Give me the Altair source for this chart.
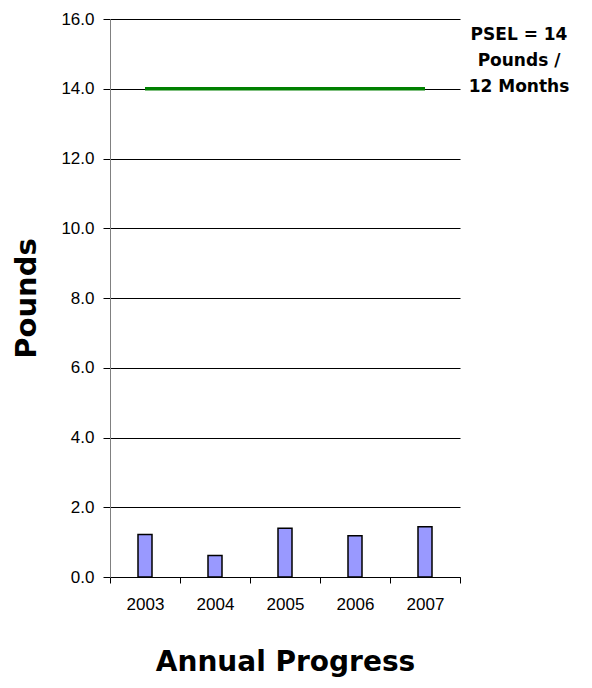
import altair as alt
import pandas as pd

years = ["2003", "2004", "2005", "2006", "2007"]
pounds = [1.22, 0.62, 1.40, 1.18, 1.44]
psel = [14.0, 14.0, 14.0, 14.0, 14.0]
y_ticks = [0, 2, 4, 6, 8, 10, 12, 14, 16]
psel_label = ["PSEL = 14", "Pounds /", "12 Months"]

df = pd.DataFrame({"year": years, "pounds": pounds, "psel": psel})

W, H = 350, 558
FONT = "Liberation Sans"
BOLD = "DejaVu Sans"

x_enc = alt.X(
    "year:N",
    title="Annual Progress",
    scale=alt.Scale(paddingInner=0, paddingOuter=0),
    axis=alt.Axis(
        labelAngle=0, tickBand="extent", tickSize=6, tickColor="black",
        domainColor="black", labelFont=FONT, labelFontSize=17, labelColor="black",
        labelPadding=13, titleFont=BOLD, titleFontSize=28, titleFontWeight="bold",
        titleColor="black", titleY=93, titleBaseline="alphabetic", grid=False,
    ),
)
y_enc = alt.Y(
    "pounds:Q",
    title="Pounds",
    scale=alt.Scale(domain=[0, 16], nice=False),
    axis=alt.Axis(
        values=y_ticks, format=".1f", tickSize=7, tickColor="black",
        domainColor="#808080", labelFont=FONT, labelFontSize=17, labelColor="black",
        labelPadding=9, grid=True, gridColor="black", gridWidth=1,
        titleFont=BOLD, titleFontSize=29, titleFontWeight="bold", titleColor="black",
        titleAngle=-90, titleX=-84, titleY=H / 2, titleAlign="center",
        titleBaseline="middle",
    ),
)

base = alt.Chart(df)

bars = base.mark_bar(size=14, color="#9999FF", stroke="black", strokeWidth=1.5).encode(
    x=x_enc, y=y_enc
)

line = base.mark_line(color="#008000", strokeWidth=3.5).encode(
    x=alt.X("year:N"), y=alt.Y("psel:Q")
)

label = alt.Chart(pd.DataFrame({"v": [14.0]})).mark_text(
    text=psel_label, align="center", baseline="middle", dy=-54,
    font=BOLD, fontSize=17, fontWeight="bold", lineHeight=26, color="black",
).encode(x=alt.value(W + 59), y=alt.Y("v:Q"))

chart = (
    alt.layer(bars, line, label)
    .properties(
        width=W, height=H,
        autosize=alt.AutoSizeParams(type="none"),
        padding={"left": 102, "top": 11, "right": 124, "bottom": 103},
        background="white",
    )
    .configure_view(stroke=None)
)

chart.save("out.html", embed_options={"renderer": "svg", "actions": False})
